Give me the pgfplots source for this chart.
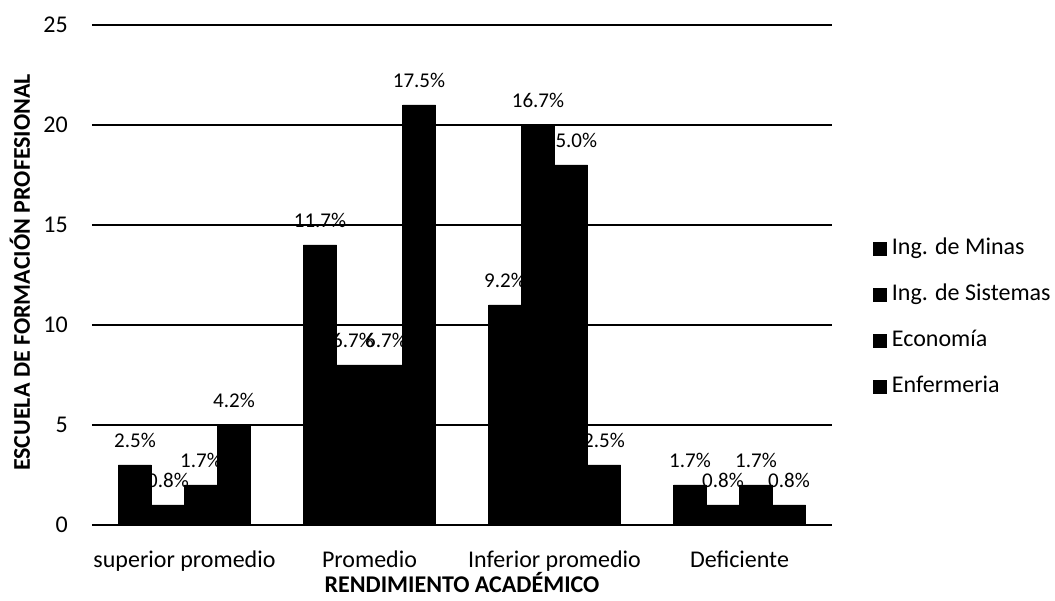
\documentclass[border=0pt]{standalone}
\usepackage{pgfplots}
\pgfplotsset{compat=1.18}
\usepackage{fontspec}
\setmainfont{Carlito}

\newcommand{\tickfont}{\fontsize{24}{27}\selectfont}
\newcommand{\valfont}{\fontsize{21}{24}\selectfont}
\newcommand{\labfont}{\fontsize{24}{27}\selectfont\bfseries}

\tikzset{solidbar/.style={fill=black, draw=black, line width=0.6pt}}

\begin{document}
\begin{tikzpicture}
\path[use as bounding box] (-92pt,-76pt) rectangle (963pt,525pt);
\begin{axis}[
  scale only axis,
  width=740pt, height=500pt,
  ybar=0pt, bar width=33pt,
  xmin=-0.5, xmax=3.5,
  ymin=0, ymax=25,
  ytick={0,5,10,15,20,25},
  xtick={0,1,2,3},
  xticklabels={superior promedio, Promedio, Inferior promedio, Deficiente},
  axis line style={draw=none},
  tick style={draw=none},
  ymajorgrids,
  major grid style={black, line width=1.4pt},
  /pgf/number format/assume math mode=true,
  yticklabel style={font=\tickfont, anchor=east, inner sep=0pt, xshift=-24pt},
  xticklabel style={font=\tickfont, anchor=base, inner sep=0pt, yshift=-38pt},
  xlabel={RENDIMIENTO ACADÉMICO},
  ylabel={ESCUELA DE FORMACIÓN PROFESIONAL},
  xlabel style={font=\labfont, at={(axis description cs:0.5,-0.136)}, anchor=base, inner sep=0pt},
  ylabel style={font=\labfont, at={(axis description cs:-0.0838,0.505)}, rotate=0, anchor=base, inner sep=0pt},
  point meta=explicit symbolic,
  nodes near coords={\pgfplotspointmeta\%},
  every node near coord/.append style={font=\valfont, text=black, anchor=base, inner sep=0pt, yshift=17pt},
  legend style={
    at={(axis description cs:1.055,0.574)}, anchor=north west,
    draw=none, fill=none, inner sep=0pt,
    font=\tickfont,
    row sep=25pt,
    nodes={inner sep=0pt, text height=16pt, text depth=5pt},
  },
  legend cell align=left,
  legend image code/.code={\fill[black] (0pt,-6.5pt) rectangle (13pt,6.5pt);},
]
% Ing. de Minas
\addplot[solidbar] coordinates {(0,3) [2.5] (1,14) [11.7] (2,11) [9.2] (3,2) [1.7]};
% Ing. de Sistemas
\addplot[solidbar] coordinates {(0,1) [0.8] (1,8) [6.7] (2,20) [16.7] (3,1) [0.8]};
% Economía
\addplot[solidbar] coordinates {(0,2) [1.7] (1,8) [6.7] (2,18) [15.0] (3,2) [1.7]};
% Enfermeria
\addplot[solidbar] coordinates {(0,5) [4.2] (1,21) [17.5] (2,3) [2.5] (3,1) [0.8]};
\legend{\ Ing. de Minas, \ Ing. de Sistemas, \ Economía, \ Enfermeria}
\end{axis}
\end{tikzpicture}
\end{document}
